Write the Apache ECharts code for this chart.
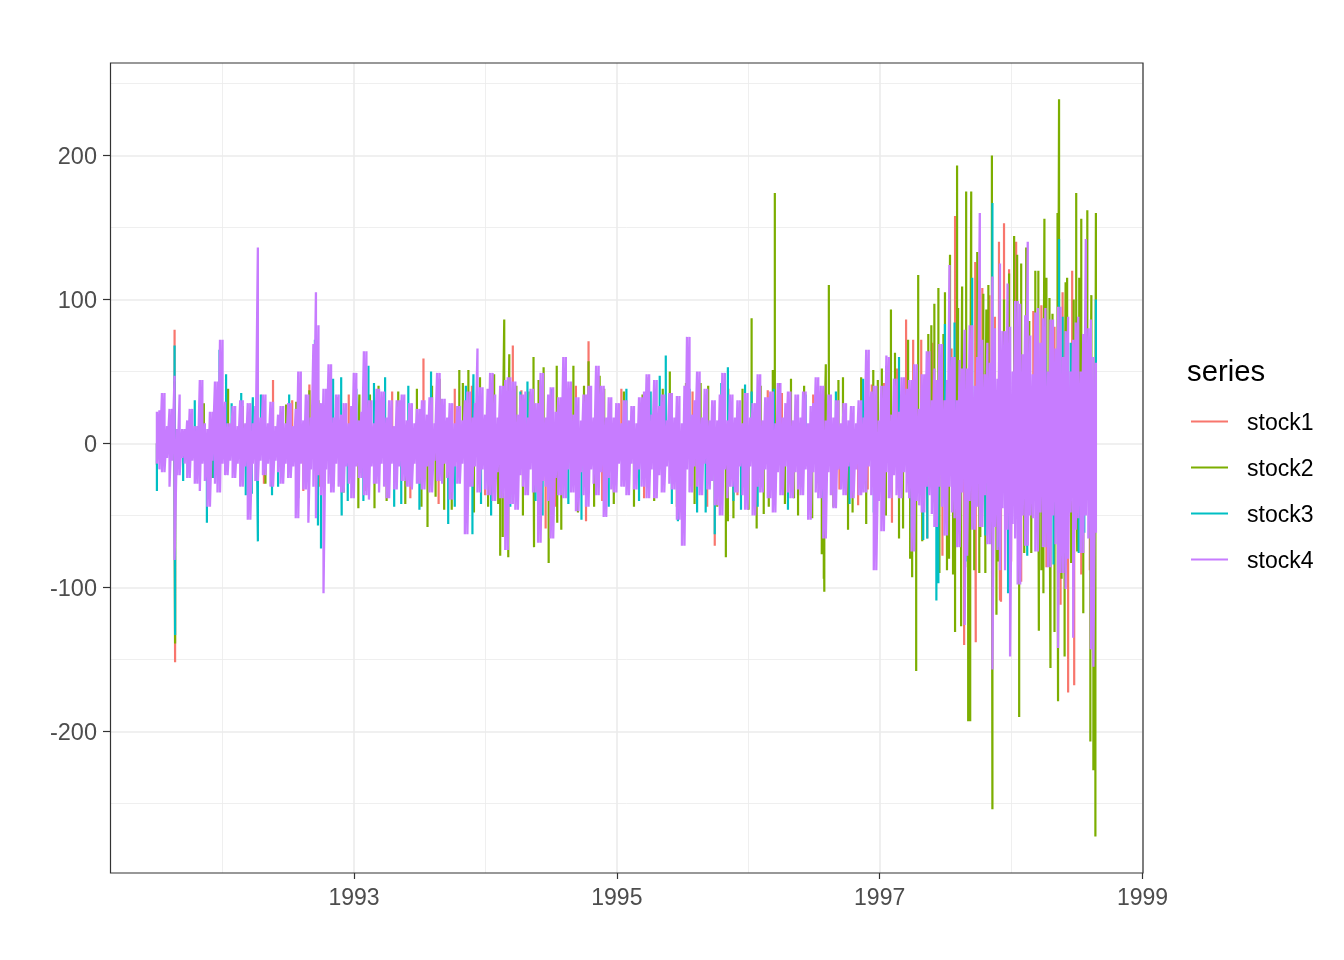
<!DOCTYPE html>
<html><head><meta charset="utf-8">
<style>html,body{margin:0;padding:0;background:#fff}#c{width:1344px;height:960px}</style>
<script src="https://cdn.jsdelivr.net/npm/echarts@6/dist/echarts.min.js"></script>
</head><body><div id="c"></div>
<script>
const seriesNames = ['stock1','stock2','stock3','stock4'];
const xMajorTicks = [1993,1995,1997,1999];
const xMinorTicks = [1992,1994,1996,1998];
const yMajorTicks = [-200,-100,0,100,200];
const yMinorTicks = [-250,-150,-50,50,150,250];

// stock4: highest and lowest reading of each 5-day column
const stock4High = [
22,23,35,35,12,24,24,47,10,34,10,10,16,24,24,12,12,44,44,14,
10,22,22,43,43,72,72,29,14,14,26,26,12,30,30,14,28,28,14,26,
136,18,34,34,14,29,29,12,20,26,26,14,28,28,12,24,50,50,16,34,
34,18,69,105,82,28,38,38,55,55,18,34,34,20,28,28,14,26,49,49,
16,22,64,64,30,30,14,38,38,36,36,18,30,30,12,30,30,34,34,16,
28,28,14,24,24,30,30,20,32,32,14,49,49,31,31,18,28,28,14,26,
26,16,30,36,36,18,28,66,39,39,20,38,49,49,34,18,40,40,44,46,
46,43,43,20,34,34,36,18,38,38,28,28,49,49,18,34,39,39,22,32,
32,60,60,43,43,20,32,32,16,34,34,40,40,18,54,54,40,40,18,32,
32,18,28,28,14,30,30,16,26,26,14,32,32,36,48,48,20,44,44,26,
34,34,16,35,35,18,33,33,14,40,74,74,20,30,50,50,18,38,38,16,
30,30,16,34,49,49,16,34,34,18,30,30,14,35,35,18,28,28,48,48,
16,32,32,36,36,14,42,42,18,28,36,36,16,34,34,18,36,36,14,26,
28,46,46,40,40,16,34,34,18,30,30,14,28,28,16,26,26,14,30,30,
18,65,65,36,40,40,16,40,40,61,60,20,45,45,22,46,46,38,44,44,
55,55,24,48,48,64,64,30,52,44,69,69,30,44,124,60,60,30,58,52,
79,52,82,82,40,60,160,72,48,70,56,116,80,45,125,78,78,111,81,50,
99,99,97,62,89,140,75,48,91,94,70,87,94,50,86,86,66,95,95,60,
78,88,50,72,84,88,50,76,142,80,86,60,56];
const stock4Low = [
-14,-18,-20,-20,-10,-30,-12,-81,-22,-22,-10,-14,-24,-24,-12,-28,-28,-33,-14,-26,
-44,-44,-12,-28,-34,-34,-14,-22,-22,-12,-24,-24,-14,-30,-30,-16,-53,-53,-14,-26,
-26,-12,-22,-22,-14,-30,-30,-12,-20,-28,-28,-14,-24,-24,-16,-52,-52,-14,-32,-32,
-55,-18,-30,-52,-22,-36,-104,-18,-28,-34,-34,-14,-30,-34,-34,-16,-28,-38,-38,-16,
-24,-24,-36,-36,-39,-16,-28,-28,-34,-14,-30,-38,-38,-14,-32,-32,-16,-26,-26,-30,
-30,-32,-14,-28,-28,-32,-32,-16,-34,-34,-12,-26,-26,-28,-14,-24,-39,-39,-16,-28,
-28,-14,-63,-63,-30,-30,-16,-34,-34,-18,-32,-36,-36,-40,-40,-20,-38,-38,-74,-74,
-42,-42,-46,-46,-22,-30,-36,-36,-18,-34,-34,-69,-69,-26,-30,-40,-66,-66,-24,-36,
-36,-38,-38,-18,-34,-34,-47,-47,-20,-36,-44,-44,-18,-28,-36,-36,-20,-51,-51,-24,
-32,-34,-34,-14,-30,-30,-36,-36,-14,-32,-32,-18,-30,-30,-38,-38,-18,-38,-38,-22,
-34,-34,-16,-28,-32,-32,-53,-53,-71,-71,-18,-34,-34,-16,-30,-36,-36,-14,-32,-32,
-26,-43,-43,-50,-50,-18,-38,-30,-30,-34,-34,-16,-36,-46,-46,-16,-50,-50,-30,-34,
-34,-18,-38,-38,-48,-48,-20,-36,-36,-16,-34,-38,-38,-20,-32,-36,-36,-18,-53,-53,
-20,-34,-38,-38,-66,-66,-20,-36,-45,-45,-18,-32,-36,-36,-16,-38,-38,-18,-36,-36,
-34,-34,-16,-36,-88,-88,-40,-61,-61,-20,-38,-38,-22,-36,-38,-38,-20,-34,-38,-75,
-75,-40,-43,-48,-48,-30,-36,-49,-58,-58,-30,-44,-64,-64,-30,-48,-52,-72,-72,-34,
-126,-78,-40,-60,-60,-44,-58,-58,-36,-70,-70,-157,-58,-74,-88,-45,-88,-60,-148,-56,
-66,-98,-98,-50,-71,-71,-50,-52,-75,-75,-48,-72,-72,-86,-86,-50,-70,-142,-90,-90,
-101,-80,-48,-135,-60,-52,-76,-76,-50,-66,-143,-155,-62];

// stock1: trading day and value of each excursion
const stock1Days = [0,35,36,230,290,302,347,357,528,705,770,850,855,1061,1105,1194,1238,1389,1408,1440,1456,1484,1498,1514,1581,1599,1621,1622,1629,1635,1649,1668,1670,1672,1678,1688,1702,1736,1762,1778,1790,1794,1805,1813,1817,1831,
 150,212,268,322,380,412,466,502,558,590,624,650,722,790,830,882,920,965,1004,1040,1090,1132,1150,1210,1270,1300,1352,1416,1466,1526,1536,1556,1574,1590,1612,1660,1692,1712,1724,1752,1800,1826,1848];
const stock1Vals = [-15,79,-152,44,-33,41,-28,32,59,68,-59,-54,71,36,-71,44,35,-43,-32,42,-55,86,72,72,158,-140,126,-138,113,108,103,140,-109,-110,153,121,140,92,-86,81,-112,105,-173,120,-168,-91,
 22,-28,30,-30,34,-33,36,-38,-42,38,40,-36,37,-44,40,-40,38,-38,32,-34,-44,38,-36,37,-36,34,-32,41,52,-66,70,-78,66,-60,-58,88,-82,-96,72,96,-76,84,-88];

// stock2: trading day and value of each excursion
const stock2Days = [35,36,93,141,276,302,399,401,431,439,444,536,552,569,599,617,680,685,688,696,698,746,747,766,776,792,793,801,825,855,877,974,1016,1077,1127,1131,1178,1188,1202,1220,1224,1244,1256,1270,1317,1321,1322,1325,1331,1359,1369,1419,1436,1454,1462,1478,1492,1496,1504,1508,1528,1540,1548,1550,1561,1569,1571,1577,1581,1585,1593,1595,1603,1607,1611,1613,1619,1625,1631,1637,1641,1643,1654,1655,1663,1678,1698,1704,1708,1712,1728,1732,1740,1746,1747,1756,1758,1762,1768,1770,1778,1784,1785,1787,1798,1800,1803,1811,1821,1823,1827,1831,1843,1849,1851,1855,1859,1860,
 110,170,215,256,320,370,415,422,455,478,492,515,524,545,560,584,606,628,640,656,668,676,712,725,738,756,784,812,834,846,866,886,905,925,945,962,985,1002,1030,1048,1065,1092,1110,1142,1160,1172,1196,1212,1234,1262,1282,1298,1310,1340,1350,1378,1395,1405,1428,1444,1470,1488,1516,1534,1558,1565,1587,1601,1629,1647,1666,1688,1718,1722,1752,1774,1792,1816,1835];
const stock2Vals = [43,-139,28,38,29,37,-45,34,-45,40,30,-58,-37,-46,51,51,-78,-65,86,-79,62,60,-72,53,-83,54,-55,-60,54,57,47,46,50,42,-79,-54,87,-59,-49,51,174,-42,45,-50,-77,-94,-103,55,110,46,-60,51,52,93,63,-59,-80,-93,-158,117,76,97,108,-90,105,-80,131,-91,-131,193,-127,109,175,-193,-193,175,-88,133,-65,104,-90,93,200,-254,-119,100,144,131,-190,125,85,-76,120,120,-130,-104,156,115,101,-156,-131,160,-179,239,-148,112,115,-83,174,-75,115,156,162,-207,103,-227,-273,160,
 -24,26,-28,27,30,-34,29,34,-40,36,-42,38,-44,40,45,-46,42,-48,46,-44,48,-42,40,-50,36,44,-46,38,-48,40,-44,38,-42,36,-44,34,-40,38,-44,42,-42,40,-44,-52,38,-46,40,-44,42,-38,40,-52,36,-44,44,-48,46,-56,44,-50,-66,72,-68,82,76,-88,94,-86,-90,110,-82,118,-76,136,-88,90,-94,100,-118];

// stock3: trading day and value of each excursion
const stock3Days = [0,35,36,99,124,137,167,188,190,198,200,228,313,319,325,349,365,366,409,419,452,484,543,577,625,627,662,734,764,841,996,1008,1020,1032,1087,1105,1131,1157,1165,1399,1518,1544,1548,1561,1615,1641,1655,1686,1787,1794,1837,1860,
 52,75,112,148,176,206,240,262,280,338,378,395,430,470,498,520,556,590,612,642,680,700,720,750,782,815,870,895,930,955,978,1040,1055,1070,1118,1142,1178,1190,1222,1250,1285,1320,1345,1372,1420,1445,1470,1495,1526,1570,1580,1602,1630,1668,1700,1724,1760,1776,1810,1826,1850];
const stock3Vals = [-33,68,-133,-55,65,48,35,-35,32,32,-68,-36,72,-57,-73,45,46,-50,-40,54,46,-42,50,-56,-63,48,-50,43,-50,-53,47,61,-42,-54,-48,-63,53,-46,41,45,-67,-109,-97,83,115,-64,167,-104,142,88,-62,100,
 -26,30,-24,28,-36,34,-30,34,-38,36,-40,38,42,-44,40,-46,36,-44,40,-42,38,-44,36,-40,38,-42,36,-44,38,-40,36,-42,38,-48,42,-40,36,-44,38,-46,34,-40,36,-42,-48,54,60,-62,-66,74,84,-82,68,-72,80,-78,62,-84,70,-76,60];

const startYear = 1991.5, daysPerYear = 260.3, daysPerColumn = 5;
const yearOf = d => startYear + d / daysPerYear;
function spikes(days, vals){
  const out = [];
  days.forEach((d,i)=>{ const y = yearOf(d); out.push([y,0],[y,vals[i]],[y,0]); });
  return out;
}
function columns(hi, lo){
  const out = [];
  hi.forEach((h,i)=>{ const y = yearOf(i*daysPerColumn); out.push([y,h],[y,lo[i]]); });
  return out;
}
const colors = ['#F8766D','#7CAE00','#00BFC4','#C77CFF'];
const seriesData = [spikes(stock1Days,stock1Vals),spikes(stock2Days,stock2Vals),spikes(stock3Days,stock3Vals),columns(stock4High,stock4Low)];
const font = '"Liberation Sans", Arial, sans-serif';
const xMin = 1991.143, xMax = 1999.004, yMin = -298.3, yMax = 264.2;

const chart = echarts.init(document.getElementById('c'), null, {renderer:'canvas'});
chart.setOption({
  animation:false,
  backgroundColor:'#fff',
  title:{text:'series',left:1187,top:358,padding:0,textStyle:{fontFamily:font,fontSize:29.3,fontWeight:'normal',color:'#000'}},
  legend:{
    orient:'vertical',left:1191,top:408,padding:0,itemWidth:37,itemHeight:2,itemGap:19,icon:'rect',
    data:seriesNames,selectedMode:false,
    formatter:n=>'{a|'+n+'}',
    textStyle:{fontFamily:font,fontSize:23,color:'#000',lineHeight:26,
      rich:{a:{fontFamily:font,fontSize:23,color:'#000',lineHeight:26,padding:[4,0,0,14]}}}
  },
  grid:{left:110,top:63,width:1033,height:810,show:false},
  graphic:[{type:'rect',z:100,silent:true,shape:{x:110.5,y:63,width:1032.5,height:810},style:{fill:'none',stroke:'#333',lineWidth:1.2}}],
  xAxis:[
    {type:'value',min:xMin,max:xMax,
     axisLine:{show:false,onZero:false},
     axisTick:{show:true,length:6,customValues:xMajorTicks,lineStyle:{color:'#333',width:1.2}},
     axisLabel:{show:true,customValues:xMajorTicks,margin:14,color:'#4D4D4D',fontFamily:font,fontSize:23,formatter:v=>String(v),showMinLabel:true,showMaxLabel:true},
     splitLine:{show:true,lineStyle:{color:'#EBEBEB',width:1.6}}},
    {type:'value',min:xMin,max:xMax,position:'bottom',
     axisLine:{show:false},axisLabel:{show:false},
     axisTick:{show:false,customValues:xMinorTicks},
     splitLine:{show:true,lineStyle:{color:'#EBEBEB',width:0.8}}}
  ],
  yAxis:[
    {type:'value',min:yMin,max:yMax,
     axisLine:{show:false,onZero:false},
     axisTick:{show:true,length:7,customValues:yMajorTicks,lineStyle:{color:'#333',width:1.2}},
     axisLabel:{show:true,customValues:yMajorTicks,margin:13,color:'#4D4D4D',fontFamily:font,fontSize:23.5,verticalAlign:'top',lineHeight:4,formatter:v=>String(v)},
     splitLine:{show:true,lineStyle:{color:'#EBEBEB',width:1.6}}},
    {type:'value',min:yMin,max:yMax,position:'left',
     axisLine:{show:false},axisLabel:{show:false},
     axisTick:{show:false,customValues:yMinorTicks},
     splitLine:{show:true,lineStyle:{color:'#EBEBEB',width:0.8}}}
  ],
  series:seriesNames.map((n,i)=>({
    name:n,type:'line',data:seriesData[i],showSymbol:false,symbol:'none',silent:true,
    clip:true,progressive:0,
    lineStyle:{color:colors[i],width:i===3?2.3:2.2,join:'bevel',cap:'butt'},
    itemStyle:{color:colors[i]},
    xAxisIndex:0,yAxisIndex:0,z:2+i
  }))
});
</script></body></html>
